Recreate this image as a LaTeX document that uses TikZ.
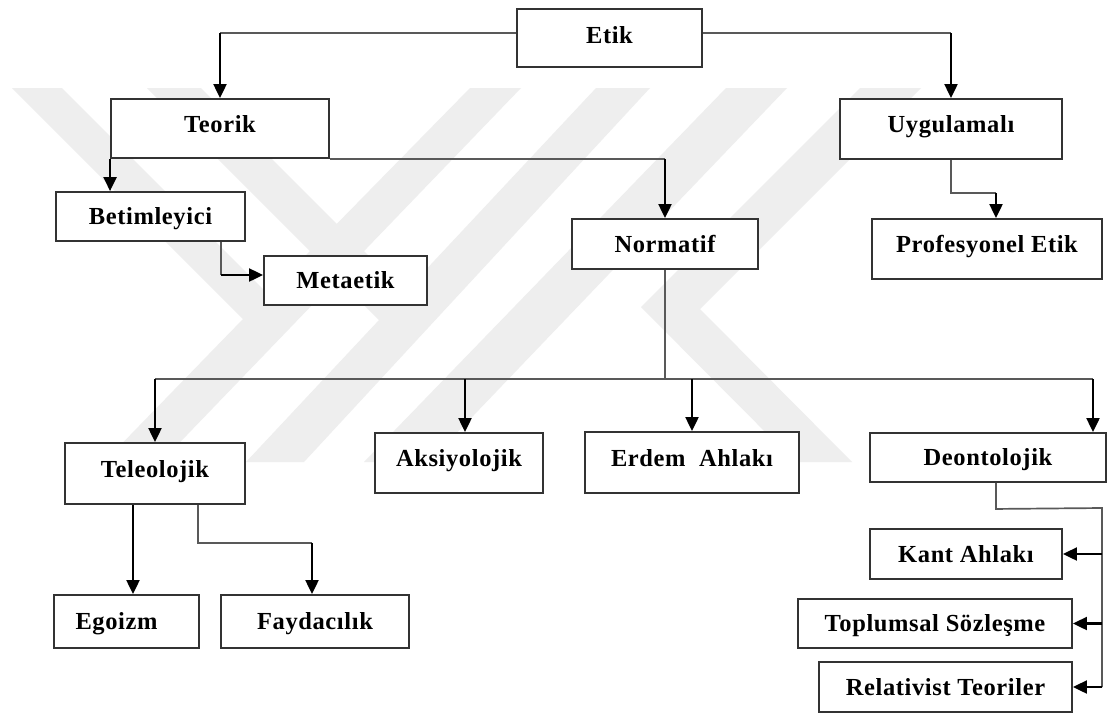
\documentclass[tikz,border=0pt]{standalone}
\usepackage{fontspec}
\setmainfont{Liberation Serif}[LetterSpace=2.5]
\usetikzlibrary{arrows.meta}
\definecolor{wm}{RGB}{238,238,238}
\tikzset{
  box/.style={draw=black!80, line width=1.9pt, fill=white, rectangle, inner sep=0pt,
    text height=16pt, text depth=0pt, font=\fontsize{24.5}{28}\selectfont\bfseries},
  conn/.style={draw=black!65, line width=1.7pt},
  arr/.style={draw=black, line width=2.2pt, -{Triangle[length=14pt,width=13pt]}}
}
\begin{document}
\begin{tikzpicture}[x=1pt,y=-1pt]
\useasboundingbox (0,0) rectangle (1108,713);
\fill[white] (0,0) rectangle (1108,713);
% watermark
\fill[wm] (12,88) -- (62,88) -- (268,294) -- (470,88) -- (521,88) -- (161,462) -- (104,462) -- (243,319) -- cycle;
\fill[wm] (147,88) -- (201,88) -- (405,292) -- (596,88) -- (650,88) -- (304,462) -- (246,462) -- (379,320) -- cycle;
\fill[wm] (726,88) -- (787,88) -- (429,462) -- (364,462) -- cycle;
\fill[wm] (860,88) -- (921,88) -- (700,309) -- (852,462) -- (795,462) -- (641,307) -- cycle;
% nodes
\node[box, minimum width=185pt, minimum height=58pt] (etik) at (609.5,38) {\raisebox{3pt}{Etik}};
\node[box, minimum width=218pt, minimum height=59pt] (teorik) at (220,128.5) {\raisebox{4.5pt}{Teorik}};
\node[box, minimum width=222pt, minimum height=60pt] (uyg) at (951,129) {\raisebox{5pt}{Uygulamalı}};
\node[box, minimum width=189pt, minimum height=49pt] (betim) at (150.5,216.5) {Betimleyici};
\node[box, minimum width=186pt, minimum height=50pt] (normatif) at (665,244) {Normatif};
\node[box, minimum width=163pt, minimum height=49pt] (metaetik) at (345.5,280.5) {Metaetik};
\node[box, minimum width=230pt, minimum height=60pt] (prof) at (987,249) {\raisebox{5pt}{Profesyonel Etik}};
\node[box, minimum width=180pt, minimum height=61pt] (teleo) at (155,473.5) {\raisebox{4.5pt}{Teleolojik}};
\node[box, minimum width=168pt, minimum height=60pt] (aksi) at (459,463) {\raisebox{5pt}{Aksiyolojik}};
\node[box, minimum width=214pt, minimum height=61pt] (erdem) at (692,462.5) {\raisebox{4.5pt}{Erdem\ \ Ahlakı}};
\node[box, minimum width=236pt, minimum height=49pt] (deont) at (988,457.5) {Deontolojik};
\node[box, minimum width=192pt, minimum height=50pt] (kant) at (966,554) {Kant Ahlakı};
\node[box, minimum width=274pt, minimum height=49pt] (topl) at (935,623.5) {Toplumsal Sözleşme};
\node[box, minimum width=253pt, minimum height=50pt] (rel) at (945.5,687) {Relativist Teoriler};
\node[box, minimum width=145pt, minimum height=53pt] (egoizm) at (126.5,621.5) {Egoizm\hspace*{20pt}};
\node[box, minimum width=188pt, minimum height=53pt] (fayd) at (315,621.5) {Faydacılık};
% connectors
\coordinate (eL) at ([yshift=5pt]etik.west);
\coordinate (eR) at ([yshift=5pt]etik.east);
\draw[conn] (eL) -- (eL -| teorik.north);
\draw[arr] (eL -| teorik.north) -- (teorik.north);
\draw[conn] (eR) -- (eR -| uyg.north);
\draw[arr] (eR -| uyg.north) -- (uyg.north);
\draw[arr] (teorik.south west) -- (teorik.south west |- betim.north);
\draw[conn] (teorik.south east) -- (teorik.south east -| normatif.north);
\draw[arr] (teorik.south east -| normatif.north) -- (normatif.north);
\coordinate (b1) at ([xshift=70.5pt]betim.south);
\coordinate (b2) at ([yshift=5.5pt]metaetik.west);
\draw[conn] (b1) -- (b1 |- b2);
\draw[arr] (b1 |- b2) -- (b2);
\coordinate (u1) at ([yshift=-33pt]uyg.south);
\coordinate (p1) at ([xshift=9pt]prof.north);
\draw[conn] (uyg.south) -- (u1) -- (u1 -| p1);
\draw[arr] (u1 -| p1) -- (p1);
\coordinate (busL) at (155,379);
\coordinate (busR) at (1093,379);
\draw[conn] (normatif.south) -- (normatif.south |- busL);
\draw[conn] (busL) -- (busR);
\draw[arr] (busL) -- (teleo.north);
\coordinate (a1) at ([xshift=6pt]aksi.north);
\draw[arr] (a1 |- busL) -- (a1);
\draw[arr] (erdem.north |- busL) -- (erdem.north);
\draw[arr] (busR) -- (busR |- deont.north);
\coordinate (g1) at ([xshift=6.5pt]egoizm.north);
\draw[arr] (g1 |- teleo.south) -- (g1);
\coordinate (t1) at ([xshift=43pt]teleo.south);
\coordinate (t2) at ([yshift=-38pt]t1);
\coordinate (f1) at ([xshift=-3pt]fayd.north);
\draw[conn] (t1) -- (t2) -- (t2 -| f1);
\draw[arr] (t2 -| f1) -- (f1);
\coordinate (s1) at ([xshift=8pt]deont.south);
\coordinate (s2) at ([yshift=-26pt]s1);
\coordinate (rail) at (1102,508);
\draw[conn] (s1) -- (s2) -- (rail) -- (rail |- rel.east);
\draw[arr] (rail |- kant.east) -- (kant.east);
\draw[arr] (rail |- topl.east) -- (topl.east);
\draw[arr] (rail |- rel.east) -- (rel.east);
\end{tikzpicture}
\end{document}
